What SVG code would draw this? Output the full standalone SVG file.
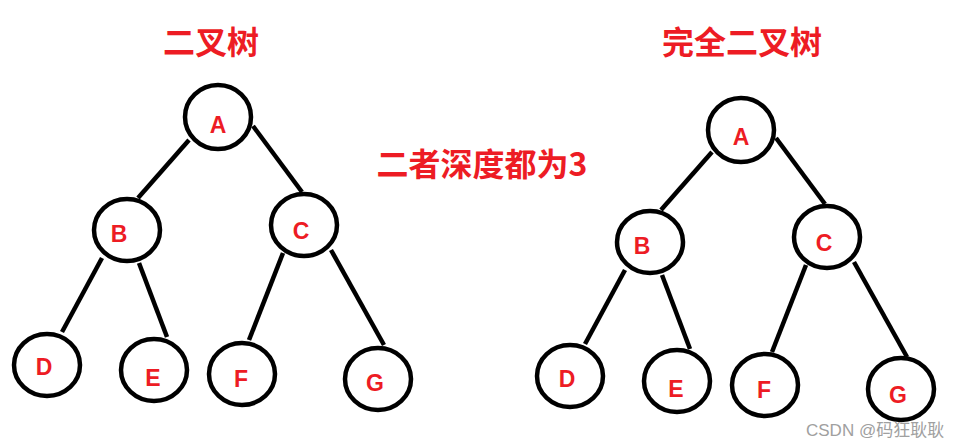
<svg xmlns="http://www.w3.org/2000/svg" width="958" height="448" viewBox="0 0 958 448">
<style>
.node ellipse{fill:#fff;stroke:#000;stroke-width:4.5}
.node text{font-family:"Liberation Sans","Noto Sans",sans-serif;font-weight:bold;font-size:23px;fill:#ed1c24;text-anchor:middle}
.edges line{stroke:#000;stroke-width:4.5;stroke-linecap:butt}
.title{font-family:"Noto Sans CJK SC","Noto Sans",sans-serif;font-weight:bold;font-size:32px;fill:#ed1c24;text-anchor:middle}
.wm{font-family:"Liberation Sans","Noto Sans CJK SC",sans-serif;font-size:17px;fill:#a0a0a0}
</style>
<rect width="958" height="448" fill="#fff"/>
<text class="title" x="211" y="54">二叉树</text>
<text class="title" x="742" y="54">完全二叉树</text>
<text class="title" x="482" y="176">二者深度都为3</text>
<g class="edges">
<line x1="189" y1="140" x2="138" y2="198"/>
<line x1="253" y1="126" x2="302" y2="192"/>
<line x1="102" y1="258" x2="62" y2="332"/>
<line x1="139" y1="263" x2="167" y2="337"/>
<line x1="283" y1="253" x2="249" y2="340"/>
<line x1="331" y1="250" x2="384" y2="345"/>
<line x1="712" y1="152" x2="661" y2="210"/>
<line x1="776" y1="138" x2="825" y2="204"/>
<line x1="625" y1="270" x2="585" y2="344"/>
<line x1="662" y1="275" x2="690" y2="349"/>
<line x1="806" y1="265" x2="772" y2="352"/>
<line x1="854" y1="262" x2="907" y2="357"/>
</g>
<g id="L_A" class="node"><ellipse cx="218" cy="117" rx="33" ry="32"/><text x="218" y="133">A</text></g>
<g id="L_B" class="node"><ellipse cx="127" cy="230" rx="33" ry="31"/><text x="119" y="242">B</text></g>
<g id="L_C" class="node"><ellipse cx="304" cy="225" rx="33" ry="31"/><text x="301" y="239">C</text></g>
<g id="L_D" class="node"><ellipse cx="47" cy="365" rx="33" ry="31"/><text x="44" y="375">D</text></g>
<g id="L_E" class="node"><ellipse cx="154" cy="370" rx="33" ry="31"/><text x="153" y="386">E</text></g>
<g id="L_F" class="node"><ellipse cx="242" cy="374" rx="33" ry="31"/><text x="241" y="387">F</text></g>
<g id="L_G" class="node"><ellipse cx="378" cy="379" rx="33" ry="31"/><text x="375" y="391">G</text></g>
<g id="R_A" class="node"><ellipse cx="741" cy="130" rx="33" ry="32"/><text x="741" y="145">A</text></g>
<g id="R_B" class="node"><ellipse cx="650" cy="242" rx="33" ry="31"/><text x="642" y="254">B</text></g>
<g id="R_C" class="node"><ellipse cx="827" cy="237" rx="33" ry="31"/><text x="824" y="251">C</text></g>
<g id="R_D" class="node"><ellipse cx="570" cy="376" rx="33" ry="31"/><text x="567" y="387">D</text></g>
<g id="R_E" class="node"><ellipse cx="677" cy="381" rx="33" ry="31"/><text x="676" y="397">E</text></g>
<g id="R_F" class="node"><ellipse cx="765" cy="385" rx="33" ry="31"/><text x="764" y="398">F</text></g>
<g id="R_G" class="node"><ellipse cx="901" cy="389" rx="33" ry="31"/><text x="898" y="403">G</text></g>
<text class="wm" x="806" y="436">CSDN @码狂耿耿</text>
</svg>
